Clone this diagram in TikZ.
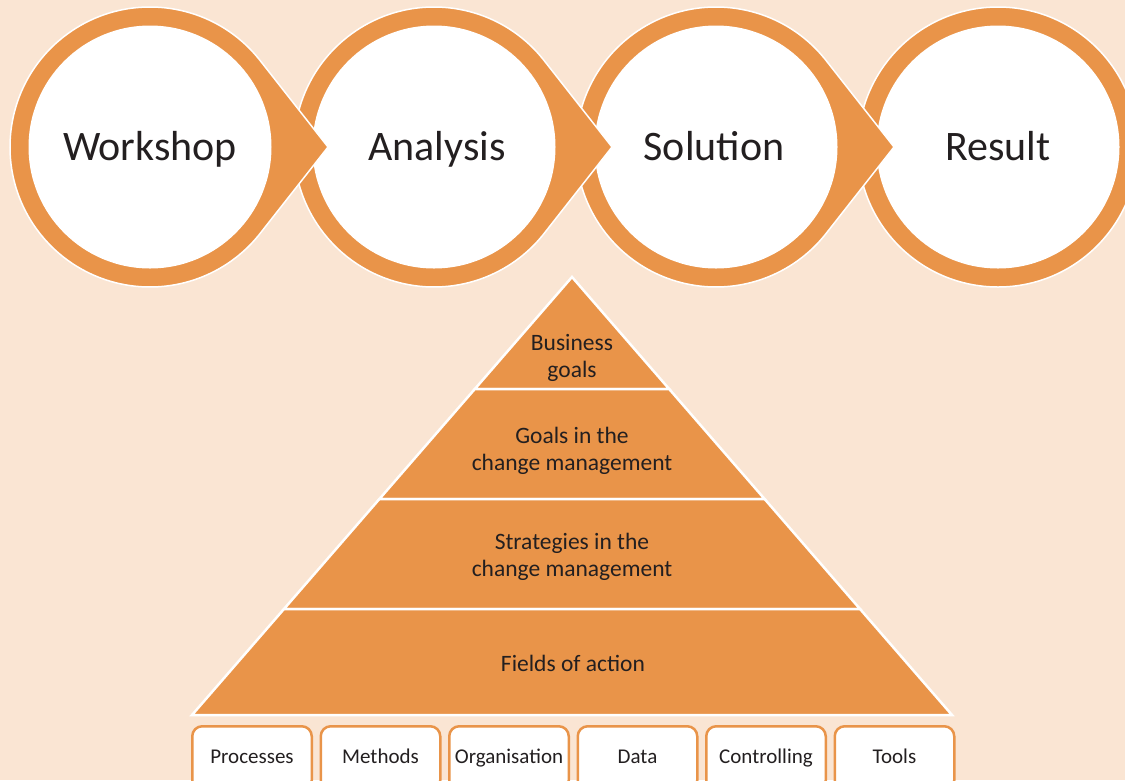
\documentclass[tikz,border=0pt]{standalone}
\usepackage{fontspec}
\setmainfont{Carlito}
\usepackage{tikz}
\usetikzlibrary{calc}
\definecolor{ora}{RGB}{233,148,73}
\definecolor{bgc}{RGB}{250,229,211}
\definecolor{txt}{RGB}{35,31,32}

\begin{document}
\begin{tikzpicture}[
    x=1pt, y=-1pt,
    ring/.style={fill=ora, draw=white, line width=1.5pt},
    stagelbl/.style={font=\fontsize{42}{48}\selectfont, text=txt, anchor=base},
    layer/.style={fill=ora, draw=white, line width=2.5pt},
    layerlbl/.style={font=\fontsize{23.5}{27}\selectfont, text=txt, align=center},
    fieldbox/.style={draw=ora, fill=white, line width=2.5pt, rounded corners=10pt,
      minimum width=119.5pt, minimum height=64pt, anchor=north, inner sep=0pt,
      text height=15pt, text depth=5pt, font=\fontsize{21}{25}\selectfont, text=txt}
    ]

    \clip (0,0) rectangle (1125,780);
    \fill[bgc] (0,0) rectangle (1125,780);

    % stages, drawn right to left so each tip lies over the next circle
    \path[ring] (998,147) circle[radius=140pt];
    \fill[white] (998,147) circle[radius=121.5pt];
    \foreach \cx in {716,434,150} {
      \path[ring] (\cx+178,147) -- ($(\cx,147)+(38.2:140pt)$)
        arc[start angle=38.2, end angle=321.8, radius=140pt] -- cycle;
      \fill[white] (\cx,147) circle[radius=121.5pt];
    }
    \node[stagelbl] (ws) at (150,160) {Workshop};
    \node[stagelbl] (an) at (437,160) {Analysis};
    \node[stagelbl] (so) at (714,160) {Solution};
    \node[stagelbl] (re) at (998,160) {Result};

    % pyramid
    \coordinate (top) at (572,277);
    \coordinate (bl) at (192,715);
    \coordinate (br) at (952,715);
    \path[layer] (top) -- ($(top)!0.256!(bl)$) -- ($(top)!0.256!(br)$) -- cycle;
    \foreach \a/\b in {0.256/0.507, 0.507/0.758, 0.758/1} {
      \path[layer] ($(top)!\a!(bl)$) -- ($(top)!\b!(bl)$)
        -- ($(top)!\b!(br)$) -- ($(top)!\a!(br)$) -- cycle;
    }
    \node[layerlbl] (bg) at (572,358) {Business\\goals};
    \node[layerlbl] (gc) at (572,451) {Goals in the\\change management};
    \node[layerlbl] (sc) at (572,557) {Strategies in the\\change management};
    \node[layerlbl] (fa) at (573,663) {Fields of action};

    % fields
    \foreach \lbl [count=\i from 0] in {Processes,Methods,Organisation,Data,Controlling,Tools}
      \node[fieldbox] (f\i) at (252+128.5*\i,725) {\lbl};

\end{tikzpicture}
\end{document}
